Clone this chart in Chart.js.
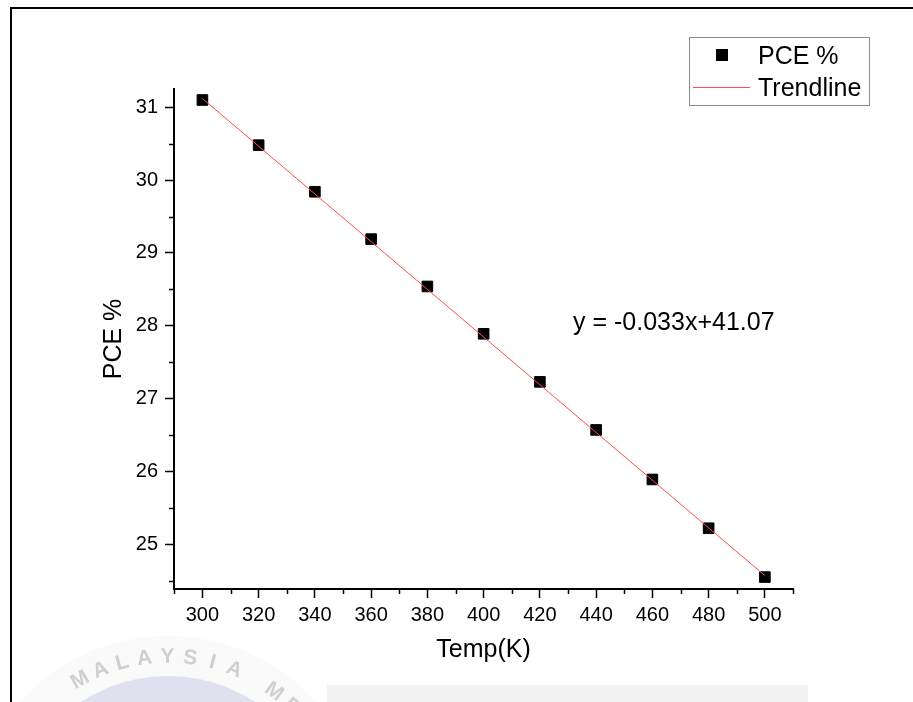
<!DOCTYPE html>
<html>
<head>
<meta charset="utf-8">
<script src="https://cdn.jsdelivr.net/npm/chart.js@4.4.3/dist/chart.umd.min.js"></script>
<style>
  html, body { margin: 0; padding: 0; background: #fff; }
  canvas { display: block; }
</style>
</head>
<body>
<canvas id="chart" width="913" height="702"></canvas>
<script>
// PCE % against temperature, with linear fit
const temps = [300, 320, 340, 360, 380, 400, 420, 440, 460, 480, 500];
const pce = [31.10, 30.48, 29.84, 29.19, 28.54, 27.89, 27.23, 26.57, 25.89, 25.22, 24.55];
const trendX = [300, 500];
const trendY = [31.12, 24.57];
const fitText = 'y = -0.033x+41.07';

const xTicks = [300, 320, 340, 360, 380, 400, 420, 440, 460, 480, 500];
const yTicks = [25, 26, 27, 28, 29, 30, 31];
const xMinor = [290, 310, 330, 350, 370, 390, 410, 430, 450, 470, 490, 510];
const yMinor = [24.5, 25.5, 26.5, 27.5, 28.5, 29.5, 30.5];

const FONT = "'Liberation Sans', Arial, sans-serif";
const RED = '#ff4d4d';

// minor ticks, legend box, fit equation, frame
const extras = {
  id: 'extras',
  beforeDraw(chart) {
    const c = chart.ctx;
    c.save();
    // faint seal from the scanned page
    const cx = 168, cy = 836;
    c.fillStyle = '#fafafa';
    c.beginPath(); c.arc(cx, cy, 200, 0, Math.PI * 2); c.fill();
    c.fillStyle = '#dfe2ee';
    c.beginPath(); c.arc(cx, cy, 160, 0, Math.PI * 2); c.fill();
    const seal = ['L', ' ', 'M', 'A', 'L', 'A', 'Y', 'S', 'I', 'A', ' ', 'M', 'E'];
    c.fillStyle = 'rgba(165,165,165,0.5)';
    c.font = 'bold 21px ' + FONT;
    c.textAlign = 'center';
    c.textBaseline = 'middle';
    seal.forEach((ch, i) => {
      const a = (-134 + i * 7.3) * Math.PI / 180;
      c.save();
      c.translate(cx + 179 * Math.cos(a), cy + 179 * Math.sin(a));
      c.rotate(a + Math.PI / 2);
      c.fillText(ch, 0, 0);
      c.restore();
    });
    c.fillStyle = '#f2f2f2';
    c.fillRect(327, 685, 481, 17);
    c.restore();
  },
  afterDraw(chart) {
    const c = chart.ctx;
    const xs = chart.scales.x, ys = chart.scales.y;
    c.save();
    c.strokeStyle = '#000';
    c.lineWidth = 1.5;
    xMinor.forEach(v => {
      const px = Math.round(xs.getPixelForValue(v)) + 0.5;
      c.beginPath(); c.moveTo(px, xs.top); c.lineTo(px, xs.top + 5); c.stroke();
    });
    yMinor.forEach(v => {
      const py = Math.round(ys.getPixelForValue(v)) + 0.5;
      c.beginPath(); c.moveTo(ys.right - 5, py); c.lineTo(ys.right, py); c.stroke();
    });

    // legend
    const ds = chart.data.datasets;
    c.strokeStyle = '#8a8a8a';
    c.lineWidth = 1;
    c.strokeRect(689.5, 37.5, 180, 68);
    c.fillStyle = ds[0].pointBackgroundColor;
    c.fillRect(716, 49, 12, 12);
    c.strokeStyle = ds[1].borderColor;
    c.lineWidth = 1;
    c.beginPath(); c.moveTo(693, 87.5); c.lineTo(750, 87.5); c.stroke();
    c.fillStyle = '#000';
    c.font = '25px ' + FONT;
    c.textAlign = 'left';
    c.textBaseline = 'alphabetic';
    c.fillText(ds[0].label, 758, 64);
    c.fillText(ds[1].label, 758, 96);

    // fit equation
    c.fillText(fitText, 573, 329.5);

    // page frame
    c.strokeStyle = '#000';
    c.lineWidth = 2;
    c.beginPath(); c.moveTo(11, 702); c.lineTo(11, 8); c.lineTo(913, 8); c.stroke();
    c.restore();
  }
};

new Chart(document.getElementById('chart'), {
  type: 'scatter',
  data: {
    datasets: [
      {
        label: 'PCE %',
        data: temps.map((t, i) => ({ x: t, y: pce[i] })),
        pointStyle: 'rect',
        pointRadius: 7.5,
        pointBackgroundColor: '#000',
        pointBorderColor: '#000',
        pointBorderWidth: 1,
        order: 1
      },
      {
        label: 'Trendline',
        data: trendX.map((t, i) => ({ x: t, y: trendY[i] })),
        showLine: true,
        pointRadius: 0,
        borderColor: RED,
        borderWidth: 1,
        order: 0
      }
    ]
  },
  options: {
    responsive: false,
    animation: false,
    layout: { padding: { left: 0, top: 89, right: 120, bottom: 0 } },
    plugins: { legend: { display: false }, tooltip: { enabled: false } },
    scales: {
      x: {
        type: 'linear',
        position: 'bottom',
        min: 289.9,
        max: 510,
        bounds: 'data',
        afterBuildTicks: s => { s.ticks = xTicks.map(v => ({ value: v })); },
        afterFit: s => { s.height = 113; },
        grid: { drawOnChartArea: false, tickLength: 9, tickColor: '#000', tickWidth: 1.5 },
        border: { color: '#000', width: 2 },
        ticks: { color: '#000', padding: 5, font: { family: FONT, size: 20 }, callback: v => String(v) },
        title: { display: true, text: 'Temp(K)', color: '#000', font: { family: FONT, size: 25 }, padding: { top: 0, bottom: 37 } }
      },
      y: {
        type: 'linear',
        position: 'left',
        min: 24.386,
        max: 31.251,
        bounds: 'data',
        afterBuildTicks: s => { s.ticks = yTicks.map(v => ({ value: v })); },
        afterFit: s => { s.width = 174; },
        grid: { drawOnChartArea: false, tickLength: 9, tickColor: '#000', tickWidth: 1.5 },
        border: { color: '#000', width: 2 },
        ticks: { color: '#000', padding: 7, font: { family: FONT, size: 20 }, callback: v => String(v) },
        title: { display: true, text: 'PCE %', color: '#000', font: { family: FONT, size: 25 }, padding: { top: 99, bottom: 0 } }
      }
    }
  },
  plugins: [extras]
});
</script>
</body>
</html>
